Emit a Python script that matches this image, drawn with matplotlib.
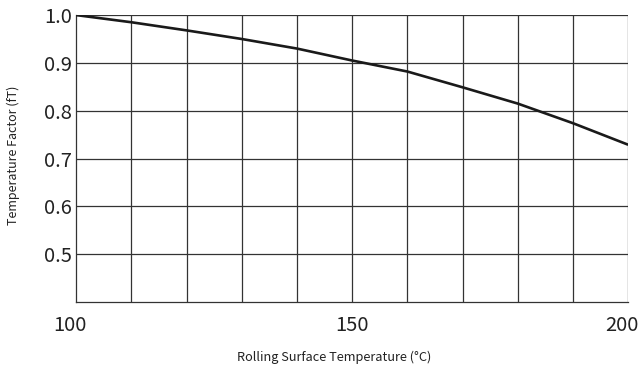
import matplotlib
matplotlib.use("Agg")
import matplotlib.pyplot as plt
from matplotlib.transforms import ScaledTranslation

plt.rcParams['font.family'] = ['Noto Sans CJK JP', 'DejaVu Sans']

temperature = [100, 110, 120, 130, 140, 150, 160, 170, 180, 190, 200]
factor = [1.0, 0.985, 0.968, 0.950, 0.930, 0.905, 0.882, 0.849, 0.815, 0.774, 0.729]
x_ticks = [100, 150, 200]
y_ticks = [0.5, 0.6, 0.7, 0.8, 0.9, 1.0]
y_tick_labels = ["0.5", "0.6", "0.7", "0.8", "0.9", "1.0"]

fig = plt.figure(figsize=(6.41, 3.68), dpi=100)
ax = fig.add_axes([0.119, 0.179, 0.861, 0.780])

grid_color = '#333333'
for xv in range(110, 201, 10):
    ax.axvline(xv, color=grid_color, lw=0.9, zorder=1)
for yv in y_ticks:
    ax.axhline(yv, color=grid_color, lw=0.9, zorder=1)

ax.plot(temperature, factor, color='#1a1a1a', lw=1.9, zorder=3, solid_capstyle='butt')

ax.set_xlim(100, 200)
ax.set_ylim(0.4, 1.0)
ax.set_xticks(x_ticks)
ax.set_yticks(y_ticks)
ax.set_yticklabels(y_tick_labels)
ax.tick_params(axis='both', length=0, labelsize=14.5, colors='#222222')
ax.tick_params(axis='x', pad=9)
ax.tick_params(axis='y', pad=3)

# first and last x labels sit slightly left in the reference
xl = ax.get_xticklabels()
shift = ScaledTranslation(-6 / 100, 0, fig.dpi_scale_trans)
xl[0].set_transform(xl[0].get_transform() + shift)
xl[-1].set_transform(xl[-1].get_transform() + shift)

for s in ['top', 'right']:
    ax.spines[s].set_visible(False)
for s in ['left', 'bottom']:
    ax.spines[s].set_color(grid_color)
    ax.spines[s].set_linewidth(0.9)

fig.text(334 / 641, 1 - 357 / 368, 'Rolling Surface Temperature (°C)', fontsize=9.2,
         color='#222222', ha='center', va='center')
fig.text(13 / 641, 1 - 155 / 368, 'Temperature Factor (fT)', fontsize=9,
         color='#222222', ha='center', va='center', rotation=90)

fig.savefig('out.png', dpi=100)
